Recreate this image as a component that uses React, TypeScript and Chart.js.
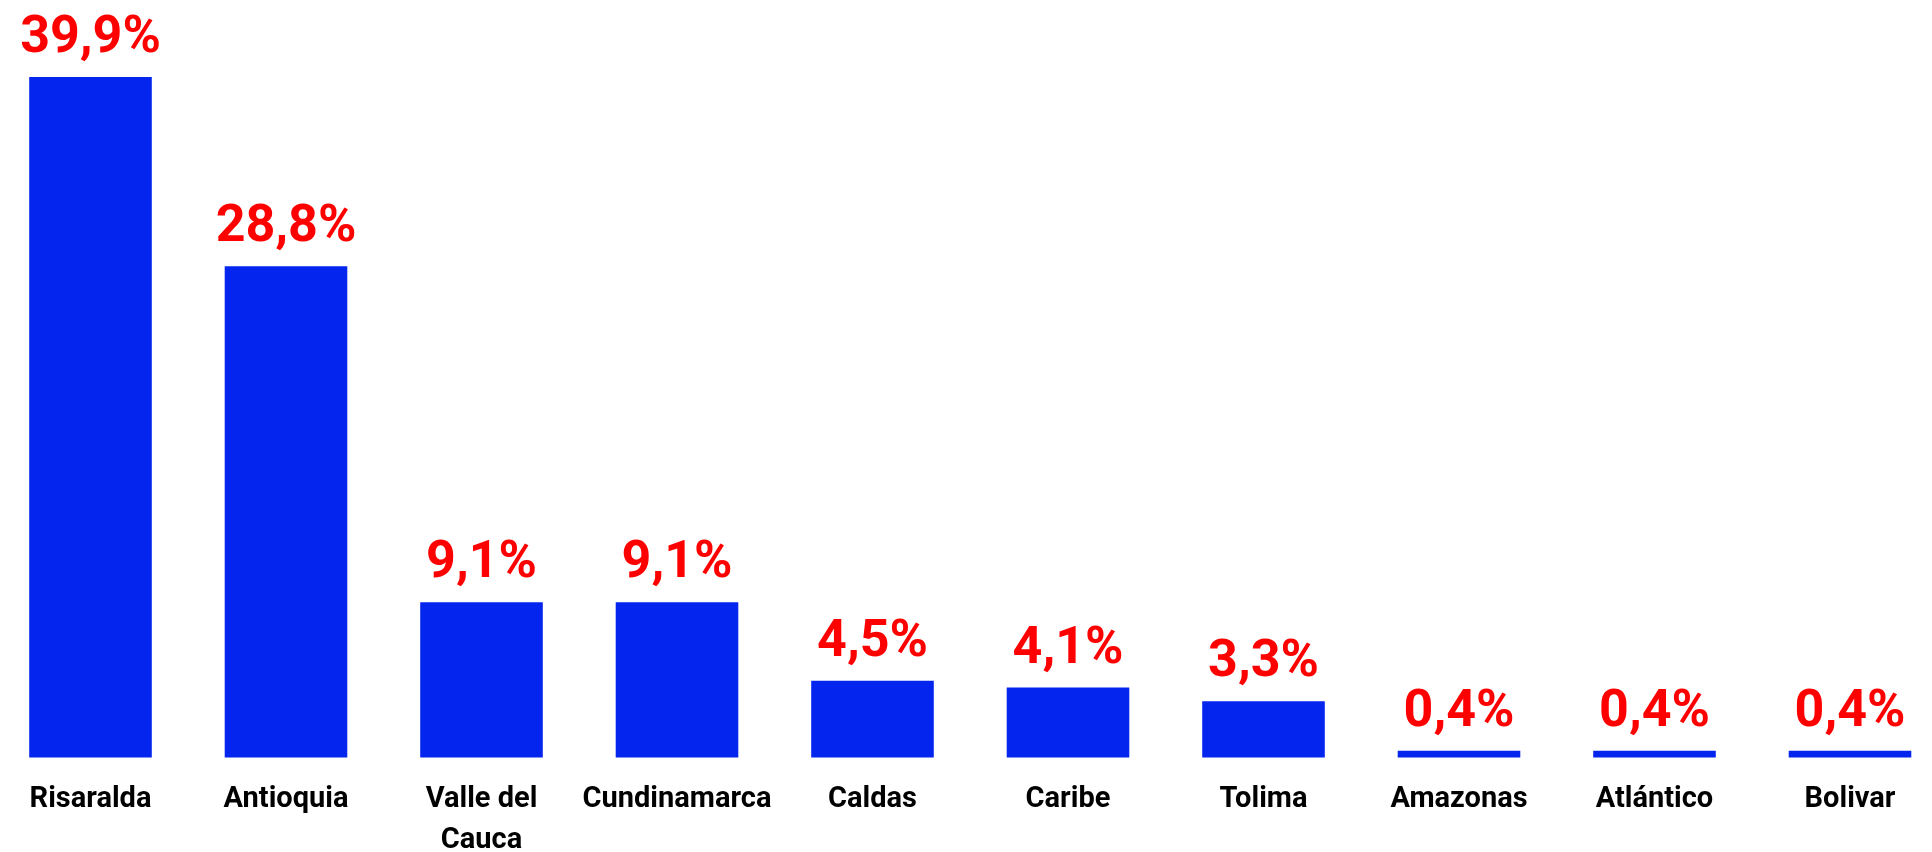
import React, { useEffect, useRef } from "react";
import { Chart, registerables } from "chart.js";

Chart.register(...registerables);

const categories: (string | string[])[] = [
  "Risaralda",
  "Antioquia",
  ["Valle del", "Cauca"],
  "Cundinamarca",
  "Caldas",
  "Caribe",
  "Tolima",
  "Amazonas",
  "Atlántico",
  "Bolivar",
];
const values: number[] = [39.9, 28.8, 9.1, 9.1, 4.5, 4.1, 3.3, 0.4, 0.4, 0.4];

const BAR_COLOR = "#0325EE";
const LABEL_COLOR = "#FF0000";

const valueLabels = {
  id: "valueLabels",
  afterDatasetsDraw(chart: any) {
    const ctx = chart.ctx;
    const meta = chart.getDatasetMeta(0);
    ctx.save();
    ctx.fillStyle = LABEL_COLOR;
    ctx.font = "bold 52px Roboto";
    ctx.textAlign = "center";
    ctx.textBaseline = "alphabetic";
    meta.data.forEach((bar: any, i: number) => {
      const txt = values[i].toFixed(1).replace(".", ",") + "%";
      ctx.fillText(txt, bar.x, bar.y - 25);
    });
    ctx.restore();
  },
};

export default function App() {
  const ref = useRef<HTMLCanvasElement>(null);
  useEffect(() => {
    if (!ref.current) return;
    const chart = new Chart(ref.current, {
      type: "bar",
      data: {
        labels: categories,
        datasets: [
          {
            data: values,
            backgroundColor: BAR_COLOR,
            borderWidth: 0,
            categoryPercentage: 1,
            barPercentage: 0.627,
            clip: false,
          } as any,
        ],
      },
      options: {
        animation: false,
        responsive: true,
        maintainAspectRatio: false,
        layout: { padding: { left: 90.5, right: 82, top: 7, bottom: 0 } },
        plugins: {
          legend: { display: false },
          tooltip: { enabled: false },
        },
        scales: {
          x: {
            offset: false,
            grid: { display: false, drawTicks: false },
            border: { display: false },
            ticks: {
              color: "#000",
              padding: 22,
              maxRotation: 0,
              autoSkip: false,
              font: { family: "Roboto", size: 29, weight: "bold", lineHeight: 1.414 },
            },
            afterFit: (scale: any) => {
              scale.height = 94.5;
            },
          },
          y: {
            display: false,
            min: 0,
            max: 44,
          },
        },
      },
      plugins: [valueLabels],
    });
    return () => chart.destroy();
  }, []);
  return (
    <div style={{ position: "absolute", left: 0, top: 0, width: 1932, height: 852 }}>
      <canvas ref={ref} />
    </div>
  );
}
